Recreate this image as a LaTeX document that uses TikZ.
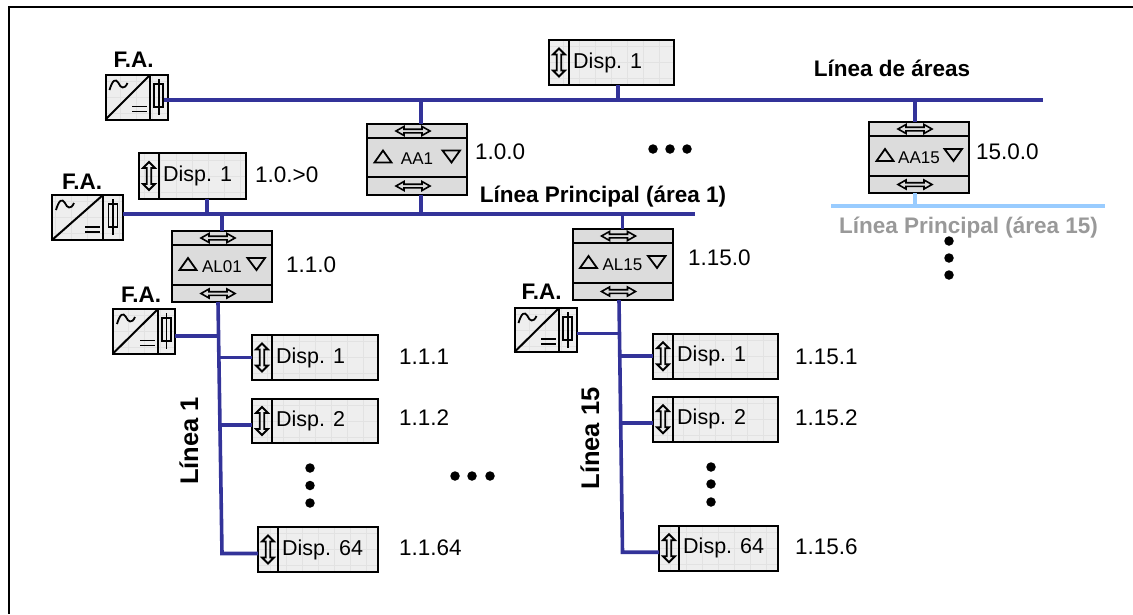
\documentclass[tikz,border=0pt]{standalone}
\usepackage{fontspec}
\setmainfont{Liberation Sans}
\definecolor{busblue}{HTML}{333399}
\definecolor{busfaint}{HTML}{99CCFF}
\definecolor{boxfill}{HTML}{EEEEEE}
\definecolor{gridc}{HTML}{E2E2E2}
\definecolor{cplfill}{HTML}{DCDCDC}
\definecolor{greytxt}{HTML}{999999}
\tikzset{
  x=1pt,y=-1pt,
  outl/.style={draw=black,line width=2pt},
  gridbox/.style={outl,fill=boxfill,inner sep=0pt,outer sep=0pt,anchor=north west,
    path picture={\draw[gridc,line width=.5pt,step=16pt] (path picture bounding box.south west) grid (path picture bounding box.north east);}},
  cplbox/.style={outl,fill=cplfill,inner sep=0pt,outer sep=0pt,anchor=north west},
  bus/.style={busblue,line width=3.6pt},
  busb/.style={busfaint,line width=3.6pt},
  lbl/.style={font=\fontsize{22.5}{26}\selectfont,inner sep=0pt,anchor=west},
  blbl/.style={font=\fontsize{22.5}{26}\selectfont\bfseries,inner sep=0pt},
  rlbl/.style={font=\fontsize{25.5}{28}\selectfont\bfseries,inner sep=0pt,rotate=90},
  dot/.style={circle,fill=black,inner sep=0pt,minimum size=9.5pt},
  icon/.style={black,line width=1.8pt},
}
% name x y width height divider-offset text
\newcommand\dispbox[7]{%
  \node[gridbox,minimum width=#4pt,minimum height=#5pt] (#1) at (#2,#3) {};
  \begin{scope}[shift={(#2,#3)}]
    \draw[outl] (#6,0) -- (#6,#5);
    \begin{scope}[shift={(#6/2,#5/2)}]
      \draw[icon] (0,-14) -- (6,-8) -- (2.2,-8) -- (2.2,8) -- (6,8) -- (0,14) -- (-6,8) -- (-2.2,8) -- (-2.2,-8) -- (-6,-8) -- cycle;
    \end{scope}
    \node[font=\fontsize{21.5}{26}\selectfont,inner sep=0pt,anchor=base west] (#1t) at (#6+4,#5/2+5.5) {#7};
  \end{scope}}
% name x y width divider height
\newcommand\fabox[6]{%
  \node[gridbox,minimum width=#4pt,minimum height=#6pt] (#1) at (#2,#3) {};
  \begin{scope}[shift={(#2,#3)}]
    \draw[outl] (#5,0) -- (#5,#6);
    \draw[black,line width=2pt] (0,#6) -- (#5,0);
    \draw[icon] (4,15) .. controls (7,5) and (10,3) .. (13,8) .. controls (15,13) and (19,15) .. (22,8);
    \draw[icon] (#5-18,#6-13) -- (#5-3,#6-13) (#5-18,#6-8) -- (#5-3,#6-8);
    \begin{scope}[shift={({#5+(#4-#5)/2},22)}]
      \draw[icon] (-4.5,-13) rectangle (4.5,10);
      \draw[icon] (0,-18) -- (0,18);
    \end{scope}
  \end{scope}}
% name x y width height b1 b2 text
\newcommand\cplbx[8]{%
  \node[cplbox,minimum width=#4pt,minimum height=#5pt] (#1) at (#2,#3) {};
  \begin{scope}[shift={(#2,#3)}]
    \draw[outl] (0,#6) -- (#4,#6) (0,#7) -- (#4,#7);
    \pgfmathsetmacro\ytop{#6/2}
    \pgfmathsetmacro\ybot{(#7+#5)/2}
    \pgfmathsetmacro\ymid{(#6+#7)/2}
    \pgfmathsetmacro\xarr{#4/2-4}
    \foreach \yy in {\ytop,\ybot} {
      \begin{scope}[shift={(\xarr,\yy)}]
        \draw[black,line width=1.6pt] (-17,0) -- (-9,-4.5) -- (-9,-1.8) -- (9,-1.8) -- (9,-4.5) -- (17,0) -- (9,4.5) -- (9,1.8) -- (-9,1.8) -- (-9,4.5) -- cycle;
      \end{scope}}
    \draw[black,line width=1.8pt] (7.5,\ymid+5) -- (24.5,\ymid+5) -- (16,\ymid-7) -- cycle;
    \draw[black,line width=1.8pt] (#4-24.5,\ymid-7) -- (#4-7,\ymid-7) -- (#4-15.5,\ymid+5) -- cycle;
    \node[font=\fontsize{17}{20}\selectfont,inner sep=0pt] (#1t) at (#4/2,\ymid+1.5) {#8};
  \end{scope}}
\begin{document}
\begin{tikzpicture}
\useasboundingbox (0,0) rectangle (1133,614);
\coordinate (frTR) at (1133,7);
\coordinate (frTL) at (9,7);
\coordinate (frBL) at (9,614);
\draw[black,line width=2pt] (frTR) -- (frTL) -- (frBL);

% boxes
\fabox{faA}{105.5}{75}{62}{44.5}{44.5}
\fabox{faB}{52}{195}{71}{51}{45}
\fabox{faC}{113}{309}{62}{45}{44.5}
\fabox{faD}{514.5}{308}{62}{44.5}{44}

\dispbox{dTop}{549}{40}{125}{45}{20}{Disp. 1}
\dispbox{dPr}{139}{153}{107}{46}{20}{Disp. 1}
\dispbox{dA}{252}{335}{126}{45}{20}{Disp. 1}
\dispbox{dB}{252}{399}{126}{44}{20}{Disp. 2}
\dispbox{dC}{258}{527}{120}{45}{20}{Disp. 64}
\dispbox{eA}{653}{334}{125}{44.5}{20}{Disp. 1}
\dispbox{eB}{653}{397}{125}{44.5}{20}{Disp. 2}
\dispbox{eC}{659}{526}{119}{44.5}{20}{Disp. 64}

\cplbx{aa1}{367}{124}{100}{71}{14}{53}{AA1}
\cplbx{aa15}{869}{122}{100}{71}{14}{54}{AA15}
\cplbx{al1}{172}{231}{100}{71}{14}{54}{AL01}
\cplbx{al15}{572.5}{229}{100}{71}{14}{54}{AL15}

% bus coordinates
\coordinate (areaW) at (164,100);
\coordinate (areaE) at (1043,100);
\coordinate (mainW) at (123,214);
\coordinate (mainE) at (695,214);
\coordinate (faintW) at (831,206);
\coordinate (faintE) at (1105,206);

\draw[bus] (areaW) -- (areaE);
\draw[bus] (mainW) -- (mainE);
\draw[busb] (faintW) -- (faintE);

\draw[bus] ([xshift=6.5pt]dTop.south) -- ([xshift=6.5pt]dTop.south |- areaW);
\draw[bus] ([xshift=4pt]aa1.north) -- ([xshift=4pt]aa1.north |- areaW);
\draw[bus] ([xshift=-4pt]aa15.north) -- ([xshift=-4pt]aa15.north |- areaW);
\draw[bus] ([xshift=4pt]aa1.south) -- ([xshift=4pt]aa1.south |- mainW);
\draw[busb] ([xshift=-4pt]aa15.south) -- ([xshift=-4pt]aa15.south |- faintW);
\draw[bus] ([xshift=14.5pt]dPr.south) -- ([xshift=14.5pt]dPr.south |- mainW);
\draw[bus] (al1.north) -- (al1.north |- mainW);
\draw[bus] (al15.north) -- (al15.north |- mainW);

% slightly leaning trunks
\coordinate (dCj) at ([yshift=-4pt]dC.west);
\coordinate (eCj) at ([yshift=-4pt]eC.west);
\draw[bus] ([xshift=-4pt]al1.south) -- (al1.south |- dCj) -- (dCj);
\draw[bus] ([xshift=-3.5pt]al15.south) -- (al15.south |- eCj) -- (eCj);
\coordinate (trunkL) at ([xshift=-2pt]al1.south);
\coordinate (trunkR) at ([xshift=-2pt]al15.south);
\draw[bus] ([yshift=-5pt]faC.east) -- ([yshift=-5pt]faC.east -| trunkL);
\draw[bus] ([yshift=-3.5pt]faD.east) -- ([yshift=-3.5pt]faD.east -| trunkR);
\draw[bus] (dA.west) -- (dA.west -| trunkL);
\draw[bus] ([yshift=-4pt]dB.west) -- ([yshift=-4pt]dB.west -| trunkL);
\draw[bus] (eA.west) -- (eA.west -| trunkR);
\draw[bus] ([yshift=-4pt]eB.west) -- ([yshift=-4pt]eB.west -| trunkR);

% labels
\node[blbl] (tA) at (133.5,60) {F.A.};
\node[blbl] (tB) at (82,182) {F.A.};
\node[blbl] (tC) at (141,295) {F.A.};
\node[blbl] (tD) at (541.5,292) {F.A.};
\node[blbl] (tArea) at (892,68) {Línea de áreas};
\node[blbl] (tMain) at (603,197) {Línea Principal (área 1)};
\node[blbl,text=greytxt] (tFaint) at (968.5,228) {Línea Principal (área 15)};
\node[rlbl] (tL1) at (189,441) {Línea 1};
\node[rlbl] (tL15) at (590,438.5) {Línea 15};

\node[lbl] (n1) at (475,152) {1.0.0};
\node[lbl] (n2) at (976,152) {15.0.0};
\node[lbl] (n3) at (255,175) {1.0.>0};
\node[lbl] (n4) at (286,265) {1.1.0};
\node[lbl] (n5) at (688,258) {1.15.0};
\node[lbl] (n6) at (399,357) {1.1.1};
\node[lbl] (n7) at (399,418) {1.1.2};
\node[lbl] (n8) at (399,548) {1.1.64};
\node[lbl] (n9) at (795,357) {1.15.1};
\node[lbl] (n10) at (795,418) {1.15.2};
\node[lbl] (n11) at (795,547) {1.15.6};

% dots
\foreach \nm/\px/\py in {a/653/149,b/670/149,c/687/149,d/455/476,e/472/476,f/490/476,g/310/468,h/310/485.5,i/310/503,j/711/467,k/711/484,l/711/502,m/949/241,n/949/258,o/949/275}
  \node[dot] (dot\nm) at (\px,\py) {};
\end{tikzpicture}
\end{document}
